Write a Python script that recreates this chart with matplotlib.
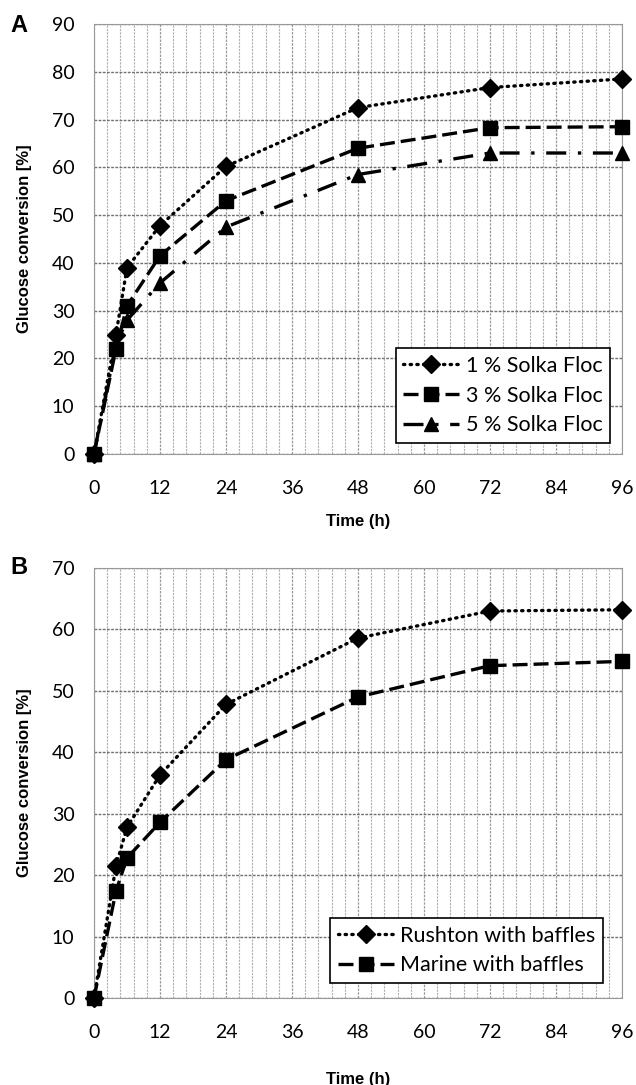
import matplotlib.pyplot as plt
from matplotlib.ticker import MultipleLocator

# time points (h)
time_h = [0, 4, 6, 12, 24, 48, 72, 96]

# panel A: Solka Floc loading
solka_1 = [0, 25, 39, 47.8, 60.2, 72.5, 76.7, 78.5]
solka_3 = [0, 22, 31, 41.5, 53, 64, 68.3, 68.5]
solka_5 = [0, 23, 28, 35.8, 47.5, 58.5, 63, 63]
labels_a = ['1 % Solka Floc', '3 % Solka Floc', '5 % Solka Floc']

# panel B: impeller type
rushton = [0, 21.5, 27.8, 36.3, 47.8, 58.6, 63, 63.2]
marine = [0, 17.4, 22.8, 28.6, 38.8, 49, 54.1, 54.8]
labels_b = ['Rushton with baffles', 'Marine with baffles']

tick_font = 'Lato'
label_font = 'Liberation Sans'

fig = plt.figure(figsize=(6.36, 10.85), dpi=100)
ax_a = fig.add_axes([94 / 636, 1 - 454 / 1085, 528 / 636, 430 / 1085])
ax_b = fig.add_axes([94 / 636, 1 - 998 / 1085, 528 / 636, 430 / 1085])

styles = [
    dict(ls=(0, (0.4, 1.6)), marker='D', ms=9.5, dash_capstyle='round', zorder=3),
    dict(ls=(0, (4.5, 1.8)), marker='s', ms=9.5, zorder=5),
    dict(ls=(0, (6, 3.5, 1, 3.5)), marker='^', ms=10, zorder=4),
]


def setup(ax, ymax):
    ax.set_xlim(0, 96)
    ax.set_ylim(0, ymax)
    ax.xaxis.set_major_locator(MultipleLocator(12))
    ax.xaxis.set_minor_locator(MultipleLocator(2.4))
    ax.yaxis.set_major_locator(MultipleLocator(10))
    ax.grid(which='major', axis='y', color='#707070', lw=1.0, ls=(0, (2, 1)))
    ax.grid(which='major', axis='x', color='#9a9a9a', lw=0.9, ls=(0, (2, 1)))
    ax.grid(which='minor', axis='x', color='#b0b0b0', lw=0.8, ls=(0, (2, 1)))
    ax.set_axisbelow(True)
    for s in ax.spines.values():
        s.set_color('#999999')
        s.set_linewidth(0.8)
    ax.tick_params(axis='x', which='both', length=0, labelsize=14, pad=19)
    ax.tick_params(axis='y', which='both', length=0, labelsize=14, pad=14)
    for t in ax.get_xticklabels() + ax.get_yticklabels():
        t.set_fontfamily(tick_font)
    ax.set_ylabel('Glucose conversion [%]', fontsize=12, fontweight='bold',
                  fontfamily=label_font, labelpad=14)


def add_legend(ax, anchor):
    leg = ax.legend(loc='lower right', bbox_to_anchor=anchor,
                    prop={'family': tick_font, 'size': 15.5}, frameon=True,
                    fancybox=False, edgecolor='black', framealpha=1,
                    handlelength=2.6, handletextpad=0.3, borderpad=0.35,
                    labelspacing=0.45, borderaxespad=0)
    leg.get_frame().set_linewidth(1.2)
    leg.set_zorder(10)


for y, lab, st in zip([solka_1, solka_3, solka_5], labels_a, styles):
    ax_a.plot(time_h, y, color='black', lw=2.4, label=lab, clip_on=False, **st)
setup(ax_a, 90)
ax_a.set_xlabel('Time (h)', fontsize=12, fontweight='bold',
                fontfamily=label_font, labelpad=12)
add_legend(ax_a, (0.977, 0.026))

for y, lab, st in zip([rushton, marine], labels_b, styles):
    ax_b.plot(time_h, y, color='black', lw=2.4, label=lab, clip_on=False, **st)
setup(ax_b, 70)
ax_b.set_xlabel('Time (h)', fontsize=12, fontweight='bold',
                fontfamily=label_font, labelpad=22)
add_legend(ax_b, (0.964, 0.035))

fig.text(10 / 636, 1 - 25 / 1085, 'A', fontsize=17, fontweight='bold',
         fontfamily=label_font, va='center')
fig.text(10 / 636, 1 - 567 / 1085, 'B', fontsize=17, fontweight='bold',
         fontfamily=label_font, va='center')

fig.savefig('out.png', dpi=100, facecolor='white')
